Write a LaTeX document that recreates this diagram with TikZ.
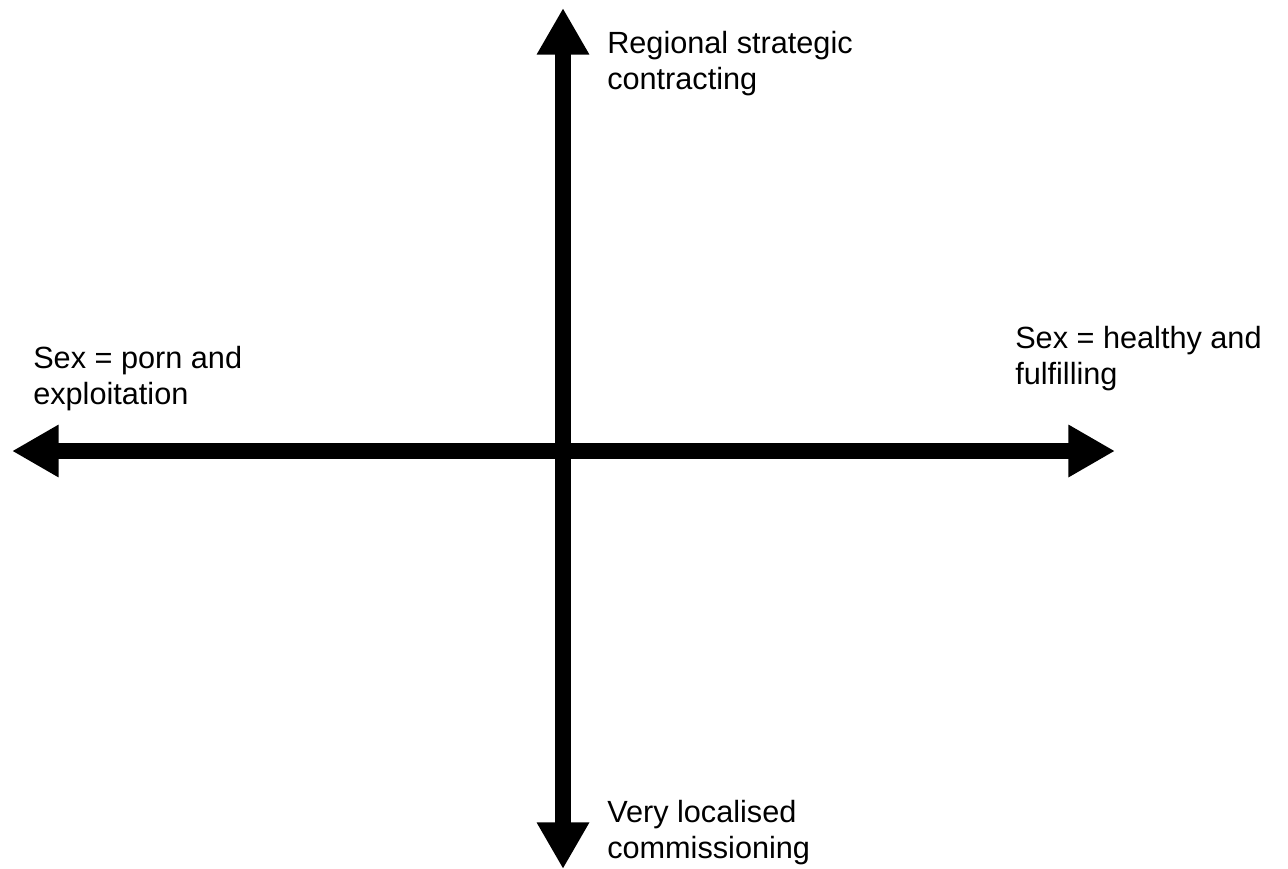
\documentclass[tikz,border=0pt]{standalone}
\usepackage{fontspec}
\setmainfont{Liberation Sans}
\usetikzlibrary{arrows.meta}
\begin{document}
\begin{tikzpicture}[x=0.75pt,y=-0.75pt,
    axis/.style={line width=12pt, {Triangle[length=35pt,width=37pt]}-{Triangle[length=35pt,width=37pt]}},
    lbl/.style={anchor=north west, inner sep=0pt, align=left, font=\fontsize{23}{27}\selectfont}]
    \useasboundingbox (0,0) rectangle (1288,868);

    \coordinate (o) at (563,451);
    \coordinate (top) at (563,8);
    \coordinate (bottom) at (563,869);
    \coordinate (left) at (12,451);
    \coordinate (right) at (1115,451);

    \draw[axis] (left) -- (right);
    \draw[axis] (bottom) -- (top);

    \node[lbl] (regional) at (607,31) {Regional strategic\\contracting};
    \node[lbl] (local) at (607,800) {Very localised\\commissioning};
    \node[lbl] (porn) at (33,346) {Sex = porn and\\exploitation};
    \node[lbl] (healthy) at (1015,326) {Sex = healthy and\\fulfilling};

\end{tikzpicture}
\end{document}
